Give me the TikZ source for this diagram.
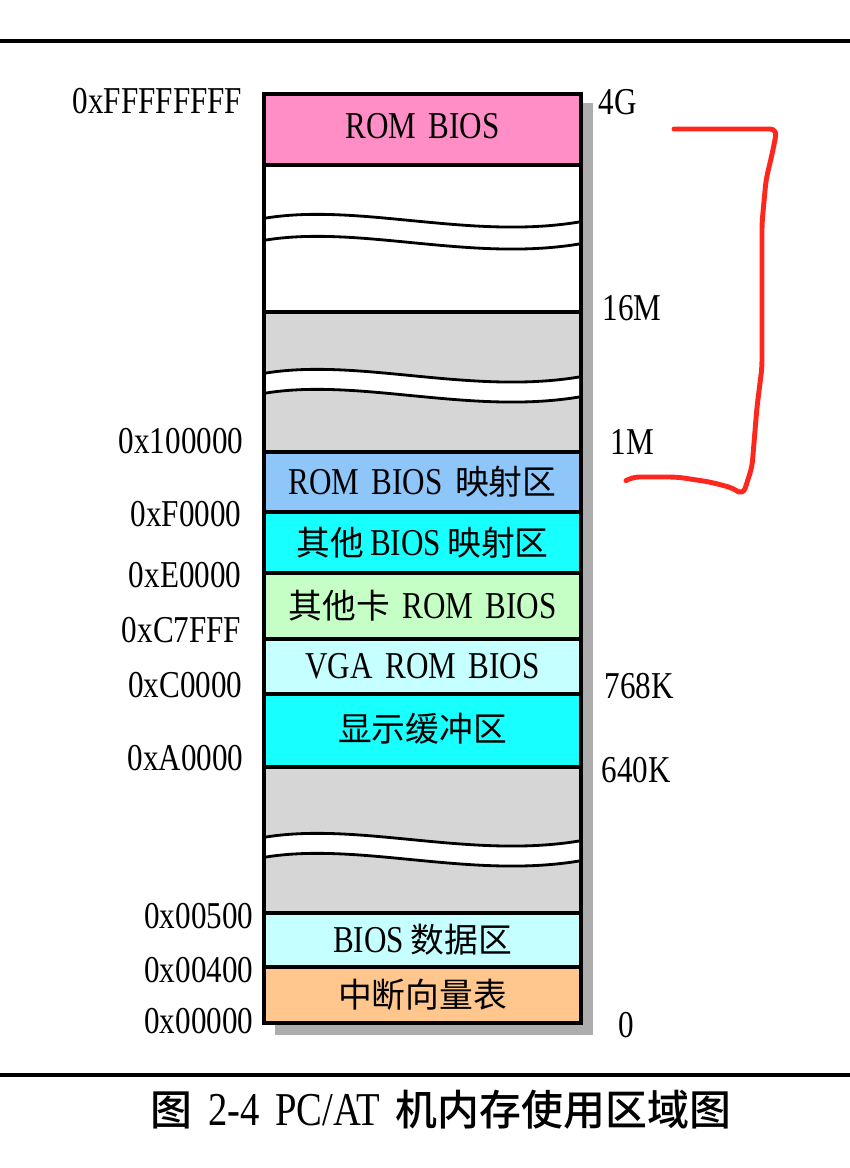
\documentclass[tikz,border=0pt]{standalone}
\usepackage{fontspec}
\setmainfont[FakeStretch=0.82,WordSpace=1.6]{Liberation Serif}
\newfontfamily\cjk[Scale=0.89]{Noto Sans CJK SC}
\newfontfamily\cjkbold[Scale=0.89]{Noto Sans CJK SC Medium}

\definecolor{rompink}{RGB}{255,142,198}
\definecolor{mapblue}{RGB}{142,198,250}
\definecolor{brightcyan}{RGB}{24,255,255}
\definecolor{cardgreen}{RGB}{198,255,198}
\definecolor{palecyan}{RGB}{198,255,255}
\definecolor{holegray}{RGB}{214,214,214}
\definecolor{ivtorange}{RGB}{255,198,142}
\definecolor{penred}{RGB}{255,38,30}

% white break band across a block, #1 = left top y, #2 = band height
\newcommand{\breakband}[2]{%
  \fill[white] (2.66,#1) .. controls (3.60,{#1+0.15}) and (4.70,{#1-0.22}) .. (5.79,{#1-0.04})
    -- (5.79,{#1-0.04-#2}) .. controls (4.70,{#1-0.22-#2}) and (3.60,{#1+0.15-#2}) .. (2.66,{#1-#2}) -- cycle;
  \draw[waveline] (2.66,#1) .. controls (3.60,{#1+0.15}) and (4.70,{#1-0.22}) .. (5.79,{#1-0.04});
  \draw[waveline] (2.66,{#1-#2}) .. controls (3.60,{#1+0.15-#2}) and (4.70,{#1-0.22-#2}) .. (5.79,{#1-0.04-#2});
}

\begin{document}
\begin{tikzpicture}[
  memblock/.style={rectangle, draw, line width=1.1pt, minimum width=3.17cm, inner sep=0pt, outer sep=0pt, text centered, font=\fontsize{10.8}{12}\selectfont},
  addrlabel/.style={anchor=east, inner sep=0pt, font=\fontsize{10.8}{12}\selectfont},
  sizelabel/.style={anchor=west, inner sep=0pt, font=\fontsize{10.8}{12}\selectfont},
  waveline/.style={line width=0.8pt},
  shadowfill/.style={fill=black!32},
  redpen/.style={draw=penred, line width=1.4pt, line cap=round, line join=round, rounded corners=2pt}
]
\useasboundingbox (0,0) rectangle (8.5,-11.68);

% Rules
\draw[line width=1.15pt] (0,-0.41) -- (8.5,-0.41);
\draw[line width=1.4pt] (0,-10.75) -- (8.5,-10.75);

% Shadow
\fill[shadowfill] (5.81,-1.03) rectangle (5.93,-10.35);
\fill[shadowfill] (2.75,-10.23) rectangle (5.93,-10.35);

% Memory blocks
\node[memblock, fill=rompink, minimum height=0.71cm] (rombios) at (4.225,-1.295) {\raisebox{0.08cm}{ROM BIOS}};
\node[memblock, fill=white, minimum height=1.47cm] (highfree) at (4.225,-2.385) {};
\node[memblock, fill=holegray, minimum height=1.40cm] (extmem) at (4.225,-3.82) {};
\node[memblock, fill=mapblue, minimum height=0.60cm] (rommap) at (4.225,-4.82) {ROM BIOS {\cjk 映射区}};
\node[memblock, fill=brightcyan, minimum height=0.61cm] (othermap) at (4.225,-5.425) {{\cjk 其他}\,BIOS\,{\cjk 映射区}};
\node[memblock, fill=cardgreen, minimum height=0.66cm] (cardrom) at (4.225,-6.06) {\raisebox{0.03cm}{{\cjk 其他卡} ROM BIOS}};
\node[memblock, fill=palecyan, minimum height=0.55cm] (vgarom) at (4.225,-6.665) {VGA ROM BIOS};
\node[memblock, fill=brightcyan, minimum height=0.73cm] (vidbuf) at (4.225,-7.305) {\raisebox{0.07cm}{\cjk 显示缓冲区}};
\node[memblock, fill=holegray, minimum height=1.46cm] (basemem) at (4.225,-8.40) {};
\node[memblock, fill=palecyan, minimum height=0.54cm] (biosdata) at (4.225,-9.40) {BIOS\,{\cjk 数据区}};
\node[memblock, fill=ivtorange, minimum height=0.56cm] (ivt) at (4.225,-9.95) {\cjk 中断向量表};

% Break bands
\breakband{-2.18}{0.22}
\breakband{-3.73}{0.20}
\breakband{-8.37}{0.20}

% Addresses
\node[addrlabel] (aTop) at (2.43,-1.015) {0xFFFFFFFF};
\node[addrlabel] (a100000) at (2.44,-4.41) {0x100000};
\node[addrlabel] (aF0000) at (2.42,-5.14) {0xF0000};
\node[addrlabel] (aE0000) at (2.42,-5.75) {0xE0000};
\node[addrlabel] (aC7FFF) at (2.42,-6.30) {0xC7FFF};
\node[addrlabel] (aC0000) at (2.43,-6.85) {0xC0000};
\node[addrlabel] (aA0000) at (2.44,-7.58) {0xA0000};
\node[addrlabel] (a00500) at (2.54,-9.16) {0x00500};
\node[addrlabel] (a00400) at (2.54,-9.70) {0x00400};
\node[addrlabel] (a00000) at (2.54,-10.21) {0x00000};

% Sizes
\node[sizelabel] (s4G) at (5.98,-1.02) {4G};
\node[sizelabel] (s16M) at (6.02,-3.085) {16M};
\node[sizelabel] (s1M) at (6.10,-4.415) {1M};
\node[sizelabel] (s768K) at (6.04,-6.86) {768K};
\node[sizelabel] (s640K) at (6.01,-7.70) {640K};
\node[sizelabel] (s0) at (6.18,-10.25) {0};

% Hand drawn bracket
\draw[redpen] (6.74,-1.29) -- (7.77,-1.29) -- (7.73,-1.50) -- (7.66,-1.80) -- (7.62,-2.23)
  -- (7.62,-3.67) -- (7.57,-4.07) -- (7.52,-4.67) -- (7.43,-4.95) -- (7.33,-4.88)
  -- (7.10,-4.82) -- (6.77,-4.77) -- (6.32,-4.77) -- (6.27,-4.80);

% Caption
\node[font=\fontsize{13.4}{15}\selectfont] (caption) at (4.41,-11.10) {{\cjkbold 图} 2-4 PC/AT {\cjkbold 机内存使用区域图}};

\end{tikzpicture}
\end{document}
